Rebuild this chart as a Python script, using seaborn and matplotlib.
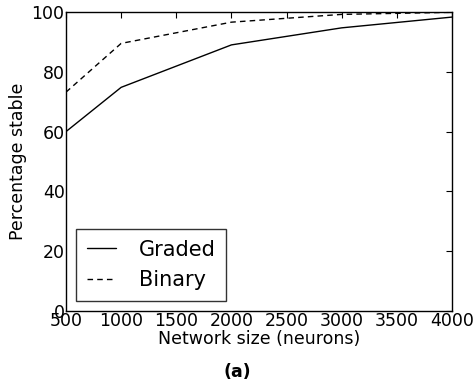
import matplotlib
matplotlib.use("Agg")
import matplotlib.pyplot as plt
import seaborn as sns
import pandas as pd

sizes = [500, 1000, 2000, 3000, 4000]
graded = [60.0, 74.8, 89.0, 94.7, 98.3]
binary = [73.2, 89.5, 96.6, 99.2, 99.9]
series_names = ["Graded", "Binary"]

sns.set_theme(style="white")
plt.rcParams['font.family'] = ['DejaVu Sans']
plt.rcParams['text.color'] = 'black'
plt.rcParams['axes.labelcolor'] = 'black'

df = pd.DataFrame({
    "size": sizes * 2,
    "value": graded + binary,
    "series": [series_names[0]] * len(sizes) + [series_names[1]] * len(sizes),
})

fig = plt.figure(figsize=(4.75, 3.85), dpi=100)
ax = fig.add_axes([66/475, 1 - 311/385, (452-66)/475, (311-12)/385])
sns.lineplot(data=df, x="size", y="value", style="series", color="black",
             dashes={"Graded": "", "Binary": (4, 3)}, linewidth=1.0, ax=ax)
ax.set_xlim(500, 4000)
ax.set_ylim(0, 100)
ax.set_xticks(range(500, 4001, 500))
ax.set_yticks(range(0, 101, 20))
ax.tick_params(direction="in", top=True, right=True, length=4, width=0.8,
               labelsize=12.5, colors="black", labelcolor="black", pad=1)
for s in ax.spines.values():
    s.set_color("black")
    s.set_linewidth(1.0)
ax.set_xlabel("Network size (neurons)", fontsize=12.5, labelpad=0)
ax.set_ylabel("Percentage stable", fontsize=12.5, labelpad=3)
leg = ax.legend(loc="lower left", fontsize=15, frameon=True, fancybox=False,
                handlelength=1.4, borderaxespad=0.5, handletextpad=1.1,
                borderpad=0.5, labelspacing=0.5)
leg.get_frame().set_edgecolor("black")
leg.get_frame().set_linewidth(1.0)
for t in leg.get_texts():
    t.set_color("black")
fig.text(0.5, 1 - 372/385, "(a)", ha="center", va="center", fontsize=12.5, fontweight="bold")
fig.savefig("out.png", dpi=100)
